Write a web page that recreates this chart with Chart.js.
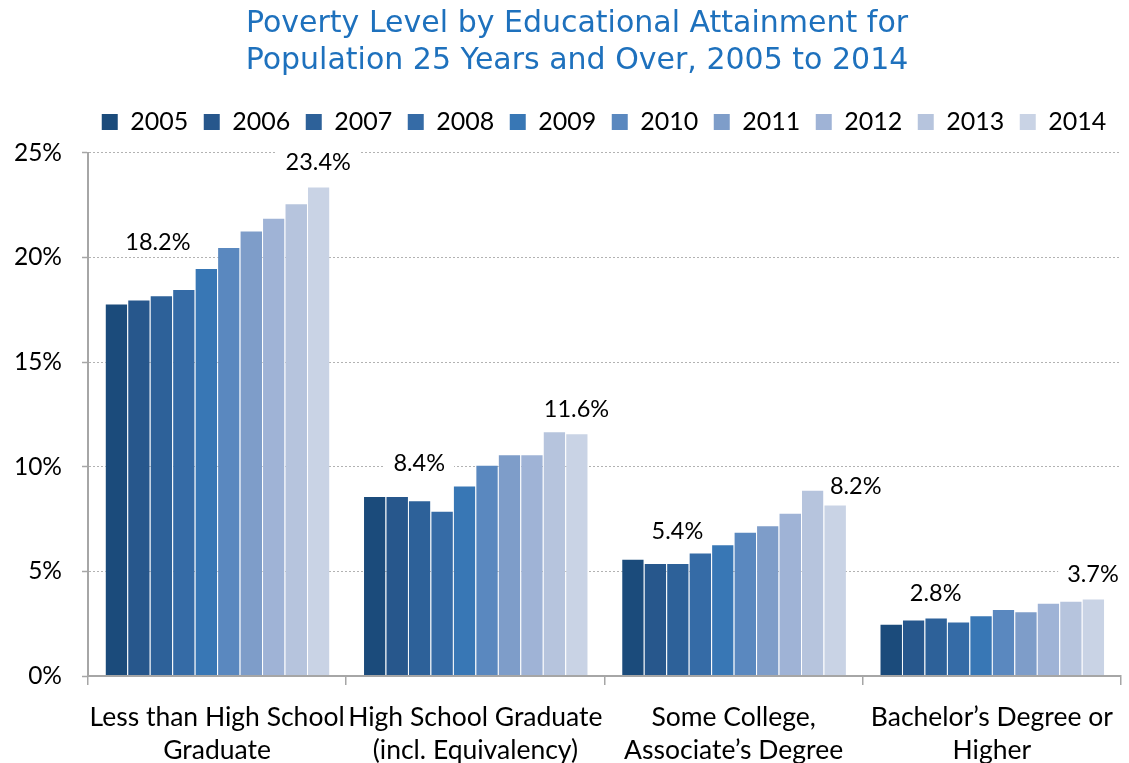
<!DOCTYPE html>
<html>
<head>
<meta charset="utf-8">
<title>Poverty Level by Educational Attainment</title>
<script src="https://cdn.jsdelivr.net/npm/chart.js@4.4.1/dist/chart.umd.min.js"></script>
<style>
  html, body { margin: 0; padding: 0; background: #ffffff; }
  canvas { display: block; }
</style>
</head>
<body>
<canvas id="chart" width="1129" height="763"></canvas>
<script>
// Educational attainment groups (two-line axis labels)
const categories = [
  ['Less than High School', 'Graduate'],
  ['High School Graduate', '(incl. Equivalency)'],
  ['Some College,', 'Associate\u2019s Degree'],
  ['Bachelor\u2019s Degree or', 'Higher']
];

const years = ['2005', '2006', '2007', '2008', '2009', '2010', '2011', '2012', '2013', '2014'];

// Percent of population 25+ below poverty level, one array per year
const y2005 = [17.8, 8.6, 5.6, 2.5];
const y2006 = [18.0, 8.6, 5.4, 2.7];
const y2007 = [18.2, 8.4, 5.4, 2.8];
const y2008 = [18.5, 7.9, 5.9, 2.6];
const y2009 = [19.5, 9.1, 6.3, 2.9];
const y2010 = [20.5, 10.1, 6.9, 3.2];
const y2011 = [21.3, 10.6, 7.2, 3.1];
const y2012 = [21.9, 10.6, 7.8, 3.5];
const y2013 = [22.6, 11.7, 8.9, 3.6];
const y2014 = [23.4, 11.6, 8.2, 3.7];

const yTicks = [0, 5, 10, 15, 20, 25];

const seriesValues = [y2005, y2006, y2007, y2008, y2009, y2010, y2011, y2012, y2013, y2014];

const barColors = ['#1b4b7b', '#27578c', '#2d6199', '#356ba6', '#3877b5',
                   '#5a88bf', '#7e9dc9', '#9fb3d6', '#b6c4dd', '#c9d3e5'];

// Bars that carry a value label: [category index, year index]
const labelledBars = [[0, 2], [0, 9], [1, 2], [1, 9], [2, 2], [2, 9], [3, 2], [3, 9]];
// Extra label shifts (px) where the default spot above the bar would crowd
const labelNudge = { '0-2': [-3, -29], '1-2': [0, -13], '2-2': [0, -8], '2-9': [21, 6] };

const TEXT_FONT = 'Lato, "Open Sans", sans-serif';
const GRID_GREY = '#a6a6a6';

// Horizontal shifts for the title and legend blocks
const TITLE_SHIFT = 13;
const LEGEND_SHIFT = 40;

function labelPos(chart, c, s) {
  const bar = chart.getDatasetMeta(s).data[c];
  const n = labelNudge[c + '-' + s] || [0, 0];
  return { x: bar.x + n[0], y: bar.y - 25 + n[1] };
}

function labelText(chart, c, s) {
  return chart.data.datasets[s].data[c].toFixed(1) + '%';
}

// White boxes behind the value labels hide the gridlines, bars draw over them;
// the label text itself goes on top of everything.
const valueLabels = {
  id: 'valueLabels',
  beforeDatasetsDraw(chart) {
    const ctx = chart.ctx;
    ctx.save();
    ctx.font = '23.5px ' + TEXT_FONT;
    ctx.fillStyle = '#ffffff';
    labelledBars.forEach(([c, s]) => {
      const p = labelPos(chart, c, s);
      const w = ctx.measureText(labelText(chart, c, s)).width + 18;
      ctx.fillRect(p.x - w / 2, p.y - 12, w, 24);
    });
    ctx.restore();
  },
  afterDatasetsDraw(chart) {
    const ctx = chart.ctx;
    ctx.save();
    ctx.font = '23.5px ' + TEXT_FONT;
    ctx.fillStyle = '#000000';
    ctx.textAlign = 'center';
    ctx.textBaseline = 'middle';
    labelledBars.forEach(([c, s]) => {
      const p = labelPos(chart, c, s);
      ctx.fillText(labelText(chart, c, s), p.x, p.y + 1);
    });
    ctx.restore();
  }
};

// Extra room below the legend row, and sideways placement of title and legend
const headerPlacement = {
  id: 'headerPlacement',
  beforeInit(chart) {
    const legend = chart.legend;
    const baseFit = legend.fit;
    legend.fit = function () {
      baseFit.call(this);
      this.height += 8.5;
    };
    [[chart.legend, LEGEND_SHIFT], [chart.titleBlock, TITLE_SHIFT]].forEach(([box, dx]) => {
      const baseDraw = box.draw;
      box.draw = function (...args) {
        this.ctx.save();
        this.ctx.translate(dx, 0);
        baseDraw.apply(this, args);
        this.ctx.restore();
      };
    });
  }
};

const datasets = years.map((yr, i) => ({
  label: yr,
  data: seriesValues[i],
  backgroundColor: barColors[i],
  borderColor: 'rgba(255,255,255,0.35)',
  borderWidth: { top: 1, left: 1, right: 0, bottom: 0 },
  borderSkipped: false,
  categoryPercentage: 0.87,
  barPercentage: 1.0
}));

new Chart(document.getElementById('chart'), {
  type: 'bar',
  data: { labels: categories, datasets },
  plugins: [valueLabels, headerPlacement],
  options: {
    responsive: false,
    animation: false,
    devicePixelRatio: 1,
    layout: { padding: { left: 0, right: 1, top: 0, bottom: 0 } },
    plugins: {
      title: {
        display: true,
        text: ['Poverty Level by Educational Attainment for', 'Population 25 Years and Over, 2005 to 2014'],
        color: '#1e71bd',
        font: { family: '"DejaVu Sans", sans-serif', size: 30, weight: 'normal', lineHeight: 1.233 },
        padding: { top: 6, bottom: 14 }
      },
      legend: {
        display: true,
        position: 'top',
        labels: {
          boxWidth: 16,
          boxHeight: 16,
          padding: 15.5,
          color: '#000000',
          font: { family: TEXT_FONT, size: 25 },
          generateLabels(chart) {
            return Chart.defaults.plugins.legend.labels.generateLabels(chart).map(item => {
              item.lineWidth = 0;
              item.strokeStyle = item.fillStyle;
              return item;
            });
          }
        }
      },
      tooltip: { enabled: false }
    },
    scales: {
      x: {
        offset: true,
        grid: {
          display: true,
          offset: true,
          drawOnChartArea: false,
          drawTicks: true,
          tickLength: 9,
          color: GRID_GREY,
          tickColor: GRID_GREY,
          lineWidth: 1.5
        },
        border: { display: true, color: GRID_GREY, width: 2, z: 1 },
        ticks: {
          color: '#000000',
          font: { family: TEXT_FONT, size: 26.5, lineHeight: 1.245 },
          padding: 16,
          maxRotation: 0,
          minRotation: 0,
          autoSkip: false
        },
        afterFit(scale) { scale.height = 87; }
      },
      y: {
        min: 0,
        max: 25,
        afterBuildTicks(scale) { scale.ticks = yTicks.map(v => ({ value: v })); },
        grid: {
          display: true,
          drawTicks: true,
          tickLength: 6,
          color: '#b2b2b2',
          lineWidth: 1,
          tickColor: GRID_GREY,
          tickWidth: 1.5,
          tickBorderDash: []
        },
        border: { display: true, color: GRID_GREY, width: 2, dash: [2, 2] },
        ticks: {
          color: '#000000',
          font: { family: TEXT_FONT, size: 24.5 },
          padding: 20,
          callback: v => v + '%'
        },
        afterFit(scale) { scale.width = 88; }
      }
    }
  }
});
</script>
</body>
</html>
